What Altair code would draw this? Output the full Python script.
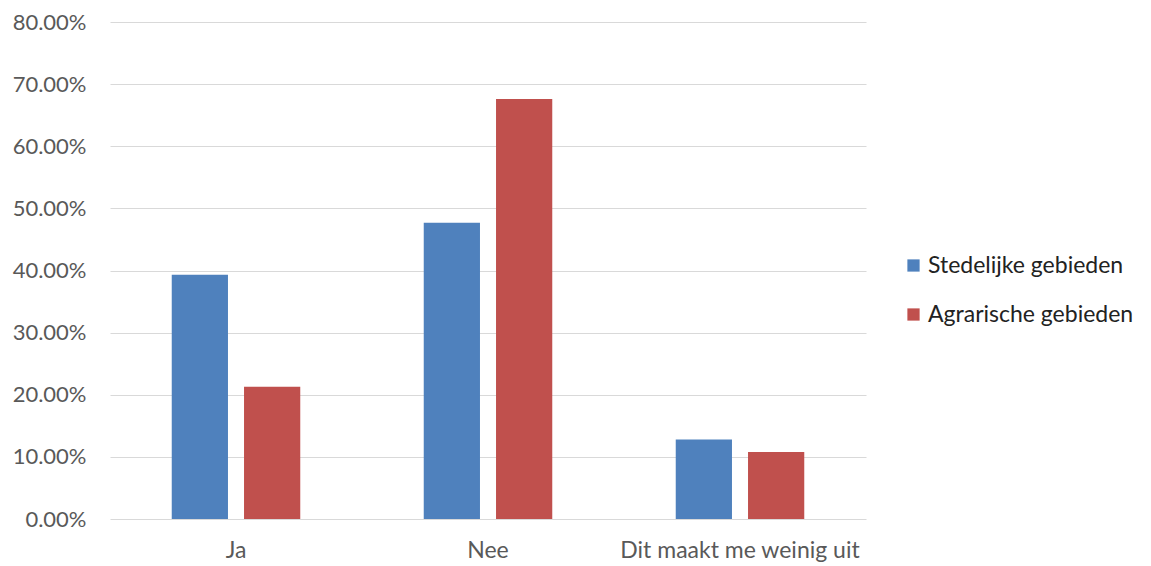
import altair as alt
import pandas as pd

categories = ["Ja", "Nee", "Dit maakt me weinig uit"]
series = ["Stedelijke gebieden", "Agrarische gebieden"]
stedelijk = [0.393, 0.477, 0.128]
agrarisch = [0.213, 0.676, 0.108]
colors = ["#4f81bd", "#c0504d"]

rows = []
for c, v in zip(categories, stedelijk):
    rows.append({"cat": c, "serie": series[0], "val": v})
for c, v in zip(categories, agrarisch):
    rows.append({"cat": c, "serie": series[1], "val": v})
df = pd.DataFrame(rows)

FONT = "Lato"

chart = alt.Chart(df).mark_bar().encode(
    x=alt.X("cat:N", sort=categories, title=None,
            scale=alt.Scale(paddingInner=0.49, paddingOuter=0.245),
            axis=alt.Axis(labelAngle=0, domain=False, ticks=False, labelPadding=20,
                          labelFontSize=23, labelColor="#595959", labelFont=FONT,
                          labelLimit=0)),
    xOffset=alt.XOffset("serie:N", sort=series, scale=alt.Scale(paddingInner=0.222)),
    y=alt.Y("val:Q", title=None,
            scale=alt.Scale(domain=[0, 0.8], nice=False),
            axis=alt.Axis(format=".2%", values=[0, 0.1, 0.2, 0.3, 0.4, 0.5, 0.6, 0.7, 0.8],
                          domain=False, ticks=False, labelPadding=24,
                          labelFontSize=22, labelColor="#595959", labelFont=FONT,
                          gridColor="#d9d9d9", gridWidth=1)),
    color=alt.Color("serie:N", sort=series, title=None,
                    scale=alt.Scale(domain=series, range=colors),
                    legend=alt.Legend(orient="none", legendX=792, legendY=232,
                                      symbolType="square", symbolSize=150,
                                      labelFontSize=23, labelColor="#222222", labelFont=FONT,
                                      labelLimit=0,
                                      rowPadding=25, symbolStrokeWidth=0, labelOffset=3)),
).properties(
    width=756, height=497,
    autosize=alt.AutoSizeParams(type="none"),
    padding={"left": 102, "top": 14, "right": 274, "bottom": 44},
).configure_view(stroke=None)

chart.save("out.html", embed_options={"renderer": "svg", "actions": False})
